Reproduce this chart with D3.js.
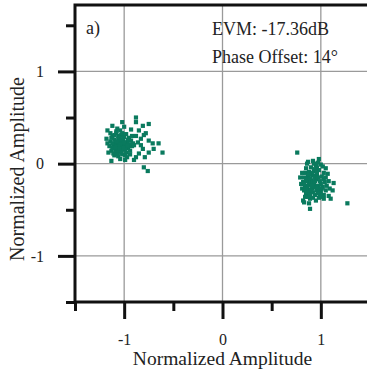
<!DOCTYPE html>
<html>
<head>
<meta charset="utf-8">
<script src="https://cdn.jsdelivr.net/npm/d3@7"></script>
<style>
  html, body { margin: 0; padding: 0; background: #fff; }
  svg { display: block; }
  text { font-family: "Liberation Serif", "Times New Roman", serif; fill: #222; }
</style>
</head>
<body>
<svg id="chart" width="367" height="371"></svg>
<script>
// Constellation points (I, Q), normalized amplitude
const symbolA = [
  [-1.12,0.30],[-1.08,0.33],[-1.03,0.31],[-0.98,0.32],[-0.95,0.28],[-1.14,0.24],[-1.10,0.26],[-1.06,0.27],
  [-1.01,0.25],[-0.97,0.23],[-0.93,0.25],[-1.15,0.19],[-1.11,0.20],[-1.07,0.21],[-1.04,0.18],[-1.00,0.20],
  [-0.96,0.17],[-0.92,0.19],[-1.13,0.14],[-1.09,0.15],[-1.05,0.13],[-1.02,0.15],[-0.98,0.12],[-0.94,0.14],
  [-1.10,0.09],[-1.06,0.08],[-1.02,0.10],[-0.97,0.07],[-1.08,0.35],[-1.04,0.36],[-1.00,0.29],[-1.13,0.28],
  [-1.17,0.22],[-1.12,0.17],[-1.07,0.17],[-1.03,0.22],[-0.99,0.16],[-0.95,0.21],[-1.09,0.22],[-1.05,0.24],
  [-1.01,0.28],[-1.06,0.30],[-0.94,0.10],[-1.16,0.12],[-1.11,0.11],[-1.04,0.05],[-0.99,0.04],[-0.91,0.22],
  [-0.92,0.30],[-1.14,0.33],[-1.18,0.27],[-1.02,0.19],[-1.08,0.12],[-0.96,0.26],
  [-1.10,0.31],[-1.05,0.28],[-1.03,0.26],[-1.08,0.24],[-1.04,0.21],[-1.00,0.23],[-1.06,0.19],[-1.09,0.18],
  [-1.01,0.17],[-1.05,0.16],[-1.03,0.12],[-0.99,0.09],[-1.07,0.10],[-1.12,0.22],[-0.97,0.20],[-1.02,0.33],
  [-0.88,0.50],[-0.88,0.45],[-0.81,0.41],[-0.75,0.43],[-1.02,0.45],[-1.12,0.41],[-1.17,0.36],[-0.80,-0.04],
  [-0.76,-0.08],[-0.85,0.36],[-0.78,0.33],[-0.83,0.27],[-0.75,0.25],[-0.71,0.22],[-0.65,0.22],[-0.70,0.16],
  [-0.61,0.12],[-0.75,0.12],[-0.81,0.16],[-0.85,0.11],[-0.88,0.07],[-0.90,0.20],[-0.88,0.30],[-0.80,0.31],
  [-1.00,0.40],[-0.86,0.23],[-0.83,0.20],[-0.79,0.07],[-0.90,0.04],[-1.13,0.03],[-1.07,0.38],[-0.93,0.37]
];
const symbolB = [
  [0.76,0.12],[1.27,-0.43],[0.89,-0.49],[0.98,0.05],[0.92,0.03],[0.87,0.02],[1.05,-0.05],[1.13,-0.21],
  [1.12,-0.29],[1.08,-0.35],[1.03,-0.38],[0.98,-0.37],[0.89,-0.38],[0.82,-0.40],[0.81,-0.27],[0.79,-0.15],
  [0.81,-0.10],[0.83,-0.42],[0.85,-0.05],[0.90,-0.04],[0.95,-0.02],[1.00,-0.01],[0.93,0.00],[0.84,-0.10],
  [0.88,-0.09],[0.93,-0.08],[0.98,-0.07],[1.03,-0.10],[0.83,-0.15],[0.87,-0.14],[0.92,-0.13],[0.96,-0.12],
  [1.01,-0.14],[1.05,-0.15],[0.82,-0.20],[0.86,-0.19],[0.90,-0.18],[0.95,-0.17],[0.99,-0.19],[1.04,-0.20],
  [0.84,-0.24],[0.88,-0.23],[0.93,-0.22],[0.97,-0.24],[1.02,-0.25],[1.06,-0.24],[0.83,-0.29],[0.87,-0.28],
  [0.91,-0.27],[0.96,-0.29],[1.00,-0.30],[1.05,-0.29],[0.85,-0.33],[0.89,-0.32],[0.94,-0.34],[0.99,-0.33],
  [1.03,-0.34],[0.87,-0.36],[0.92,-0.37],[0.96,-0.04],[1.02,-0.03],[0.86,0.00],[0.97,0.01],[0.91,-0.10],
  [1.07,-0.11],[0.80,-0.22],[1.08,-0.19],[0.98,-0.27],[0.92,-0.31],[1.01,-0.36],[0.95,-0.40],[0.88,-0.43],
  [0.86,-0.25],[0.94,-0.06],[1.00,-0.22],[0.90,-0.21],[1.09,-0.27],[1.10,-0.38],[0.84,-0.36],[0.94,-0.15],
  [1.03,-0.17],
  [0.85,-0.17],[0.89,-0.16],[0.92,-0.20],[0.95,-0.26],[0.90,-0.29],[0.86,-0.31],[0.97,-0.15],[0.85,-0.27],
  [0.88,-0.12],[0.91,-0.24],[0.97,-0.32],[0.83,-0.22],[0.94,-0.19],[0.89,-0.34],[1.01,-0.27],[0.96,-0.09]
];
const majorTicks = [-1, 0, 1];
const minorTicks = [-1.5, -0.5, 0.5, 1.5];
const tickLabels = ["-1", "0", "1"];
const panelLabel = "a)";
const infoLines = ["EVM: -17.36dB", "Phase Offset: 14°"];
const xTitle = "Normalized Amplitude";
const yTitle = "Normalized Amplitude";

const svg = d3.select("#chart");
const x = d3.scaleLinear().domain([-1.5, 1.5]).range([75, 370]);
const y = d3.scaleLinear().domain([-1.5, 1.72]).range([302, 5]);
const ink = "#111";
const dotColor = "#0a7a5e";

// grid
const grid = svg.append("g").attr("stroke", "#9a9a9a").attr("stroke-width", 1.3);
grid.selectAll(".gx").data(majorTicks).join("line")
  .attr("x1", d => x(d)).attr("x2", d => x(d)).attr("y1", y.range()[1]).attr("y2", y.range()[0]);
grid.selectAll(".gy").data(majorTicks).join("line")
  .attr("y1", d => y(d)).attr("y2", d => y(d)).attr("x1", x.range()[0]).attr("x2", x.range()[1]);

// points
const size = 4.2;
svg.append("g").attr("fill", dotColor)
  .selectAll("rect").data(symbolA.concat(symbolB)).join("rect")
  .attr("x", d => x(d[0]) - size / 2).attr("y", d => y(d[1]) - size / 2)
  .attr("width", size).attr("height", size);

// axes with outward major and minor ticks
const xAxisMajor = d3.axisBottom(x).tickValues(majorTicks).tickSize(17).tickFormat((d, i) => tickLabels[i]).tickPadding(15);
const xAxisMinor = d3.axisBottom(x).tickValues(minorTicks).tickSize(9).tickFormat("");
const yAxisMajor = d3.axisLeft(y).tickValues(majorTicks).tickSize(17).tickFormat((d, i) => tickLabels[i]).tickPadding(14);
const yAxisMinor = d3.axisLeft(y).tickValues(minorTicks).tickSize(9).tickFormat("");

function styleAxis(g) {
  g.select(".domain").remove();
  g.selectAll(".tick line").attr("stroke", ink).attr("stroke-width", 3);
  g.selectAll(".tick text").attr("fill", "#222").style("font-size", "16px")
    .style("font-family", "'Liberation Serif', serif");
}
svg.append("g").attr("transform", `translate(0,${y(-1.5)})`).call(xAxisMinor).call(styleAxis);
svg.append("g").attr("transform", `translate(0,${y(-1.5)})`).call(xAxisMajor).call(styleAxis);
svg.append("g").attr("transform", `translate(${x(-1.5)},0)`).call(yAxisMinor).call(styleAxis);
svg.append("g").attr("transform", `translate(${x(-1.5)},0)`).call(yAxisMajor).call(styleAxis);

// frame
svg.append("rect")
  .attr("x", x.range()[0]).attr("y", y.range()[1])
  .attr("width", x.range()[1] - x.range()[0]).attr("height", y.range()[0] - y.range()[1])
  .attr("fill", "none").attr("stroke", ink).attr("stroke-width", 3);

// annotations
svg.append("text").attr("x", 86).attr("y", 34).style("font-size", "18px").text(panelLabel);
svg.selectAll(".info").data(infoLines).join("text")
  .attr("x", 212).attr("y", (d, i) => 35 + i * 28).style("font-size", "18px").text(d => d);

// axis titles
svg.append("text").attr("x", x(0)).attr("y", 365).attr("text-anchor", "middle")
  .style("font-size", "19.5px").text(xTitle);
svg.append("text").attr("transform", `translate(24,169) rotate(-90)`).attr("text-anchor", "middle")
  .style("font-size", "20px").text(yTitle);
</script>
</body>
</html>
